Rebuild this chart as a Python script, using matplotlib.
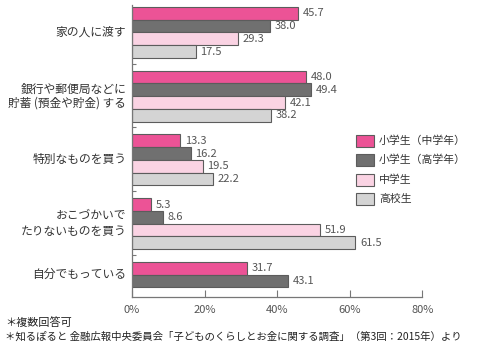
import matplotlib
matplotlib.use("Agg")
import matplotlib.pyplot as plt
from matplotlib.patches import Rectangle

plt.rcParams['font.family'] = ['Noto Sans CJK JP', 'DejaVu Sans']

categories = ["家の人に渡す", "銀行や郵便局などに\n貯蓄 (預金や貯金) する", "特別なものを買う",
              "おこづかいで\nたりないものを買う", "自分でもっている"]
series_names = ["小学生（中学年）", "小学生（高学年）", "中学生", "高校生"]
elem_mid = [45.7, 48.0, 13.3, 5.3, 31.7]
elem_high = [38.0, 49.4, 16.2, 8.6, 43.1]
junior = [29.3, 42.1, 19.5, 51.9, None]
senior = [17.5, 38.2, 22.2, 61.5, None]
xticks = [0, 20, 40, 60, 80]
xtick_labels = ["0%", "20%", "40%", "60%", "80%"]
note1 = "＊複数回答可"
note2 = "＊知るぽると 金融広報中央委員会「子どものくらしとお金に関する調査」（第3回：2015年）より"

colors = ["#EC5396", "#707070", "#FAD3E3", "#D4D4D4"]
edge = "#5c5c5c"
text_c = "#555555"

fig = plt.figure(figsize=(4.8, 3.5), dpi=100)
ax = fig.add_axes([0.275, 0.1514, 0.6048, 0.8343])

all_series = [elem_mid, elem_high, junior, senior]
for gi in range(len(categories)):
    for si, ser in enumerate(all_series):
        v = ser[gi]
        if v is None:
            continue
        y = gi * 5 + si + 0.5
        ax.barh(y, v, height=1.0, color=colors[si], edgecolor=edge, linewidth=0.8)
        ax.text(v + 1.3, y, f"{v:.1f}", va='center', ha='left', fontsize=8, color=text_c)

ax.set_xlim(0, 80)
ax.set_ylim(22.75, -0.15)
ax.set_xticks(xticks)
ax.set_xticklabels(xtick_labels, fontsize=8, color=text_c)
ax.tick_params(axis='x', direction='in', length=5, width=0.8, color='#777777', pad=6)

# group separators as y ticks
ax.set_yticks([4.45, 9.45, 14.45, 19.45])
ax.set_yticklabels([])
ax.tick_params(axis='y', direction='in', length=3, width=0.8, color='#777777')

for s in ['top', 'right']:
    ax.spines[s].set_visible(False)
for s in ['left', 'bottom']:
    ax.spines[s].set_color('#777777')
    ax.spines[s].set_linewidth(0.9)

# category labels (each line placed separately)
counts = [4, 4, 4, 4, 2]
half_gap = [0, 0.55, 0, 0.65, 0]
for gi, cat in enumerate(categories):
    yc = gi * 5 + counts[gi] / 2
    lines = cat.split("\n")
    if len(lines) == 1:
        ax.text(-1.6, yc, lines[0], ha='right', va='center', fontsize=8.5, color='#333333')
    else:
        ax.text(-1.6, yc - half_gap[gi], lines[0], ha='right', va='center',
                fontsize=8.5, color='#333333')
        fs2 = 8.4 if "(" in lines[1] else 8.5
        ax.text(-1.6, yc + half_gap[gi], lines[1], ha='right', va='center',
                fontsize=fs2, color='#333333')

# legend
lx0, lw, lh = 356 / 480, 18 / 480, 11.5 / 350
rows = [141, 160, 180, 199]
for i, name in enumerate(series_names):
    yc = 1 - rows[i] / 350
    fig.patches.append(Rectangle((lx0, yc - lh / 2), lw, lh, transform=fig.transFigure,
                                 facecolor=colors[i], edgecolor=edge, linewidth=0.8))
    fig.text(379 / 480, yc, name, ha='left', va='center', fontsize=7.8, color='#333333')

fig.text(5 / 480, 1 - 323 / 350, note1, ha='left', va='center', fontsize=8, color='#222222')
fig.text(5 / 480, 1 - 337 / 350, note2, ha='left', va='center', fontsize=7.5, color='#222222')

fig.savefig("out.png", dpi=100)
